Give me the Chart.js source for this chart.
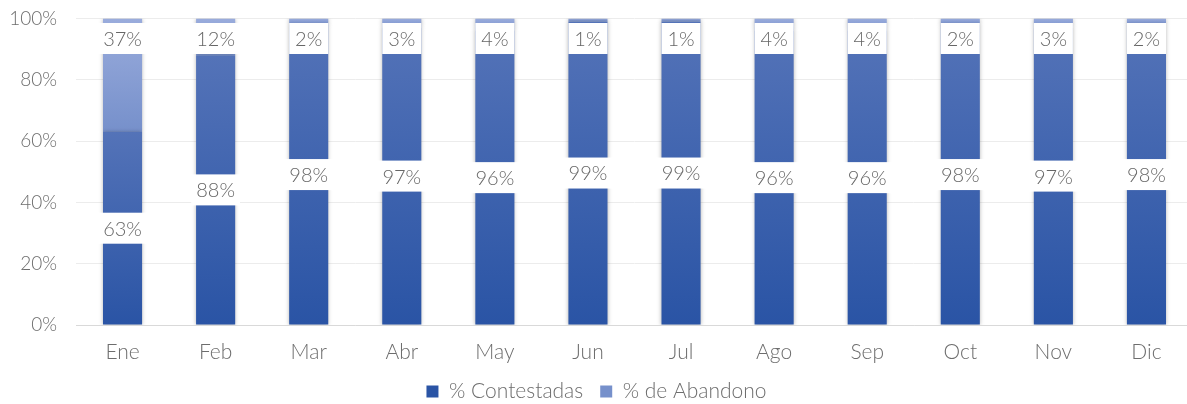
<!DOCTYPE html>
<html>
<head>
<meta charset="utf-8">
<script src="https://cdn.jsdelivr.net/npm/chart.js@4"></script>
<style>
    html, body { margin: 0; padding: 0; overflow: hidden; background: #fff; }
</style>
</head>
<body>
<canvas id="callsChart" width="1200" height="412"></canvas>
<script>
// monthly data
const months = ['Ene', 'Feb', 'Mar', 'Abr', 'May', 'Jun', 'Jul', 'Ago', 'Sep', 'Oct', 'Nov', 'Dic'];
const contestadas = [63, 88, 98, 97, 96, 99, 99, 96, 96, 98, 97, 98];
const abandono = [37, 12, 2, 3, 4, 1, 1, 4, 4, 2, 3, 2];
const yTicks = [0, 20, 40, 60, 80, 100];

const fontFamily = "Lato, 'Open Sans', sans-serif";
const textGray = '#6d6d6d';

// gradient per bar segment, from its own bottom to its own top
function barGradient(bottomColor, topColor, solid) {
    return function (context) {
        const chart = context.chart;
        if (context.dataIndex === undefined || !chart.chartArea) {
            return solid;
        }
        const y = chart.scales.y;
        let base = 0;
        for (let i = 0; i < context.datasetIndex; i++) {
            base += chart.data.datasets[i].data[context.dataIndex];
        }
        const value = chart.data.datasets[context.datasetIndex].data[context.dataIndex];
        const g = chart.ctx.createLinearGradient(0, y.getPixelForValue(base), 0, y.getPixelForValue(base + value));
        g.addColorStop(0, bottomColor);
        g.addColorStop(1, topColor);
        return g;
    };
}

// soft shadow round the bars
const barShadow = {
    id: 'barShadow',
    beforeDatasetsDraw(chart) {
        const ctx = chart.ctx;
        ctx.save();
        ctx.shadowColor = 'rgba(0, 0, 0, 0.28)';
        ctx.shadowBlur = 4;
    },
    afterDatasetsDraw(chart) {
        chart.ctx.restore();
    }
};

// value labels in white boxes
const boxLabels = {
    id: 'boxLabels',
    afterDatasetsDraw(chart) {
        const ctx = chart.ctx;
        const fontSize = 20;
        ctx.save();
        ctx.font = `300 ${fontSize}px ${fontFamily}`;
        ctx.textAlign = 'center';
        ctx.textBaseline = 'middle';
        chart.data.datasets.forEach((ds, di) => {
            const meta = chart.getDatasetMeta(di);
            meta.data.forEach((bar, i) => {
                const text = ds.data[i] + '%';
                // first series centred in its segment, second one near the top of the stack
                const cy = di === 0 ? (bar.y + bar.base) / 2 : bar.y + 20;
                const w = Math.max(ctx.measureText(text).width + 10, bar.width);
                const h = fontSize + 11;
                ctx.fillStyle = '#ffffff';
                ctx.fillRect(bar.x - w / 2, cy - h / 2, w, h);
                ctx.fillStyle = '#666666';
                ctx.fillText(text, bar.x, cy + 1);
            });
        });
        ctx.restore();
    }
};

const ctx = document.getElementById('callsChart').getContext('2d');

new Chart(ctx, {
    type: 'bar',
    data: {
        labels: months,
        datasets: [
            {
                label: '% Contestadas',
                data: contestadas,
                backgroundColor: barGradient('#2a54a5', '#5473b8', '#2e56a6'),
                barPercentage: 0.42,
                categoryPercentage: 1
            },
            {
                label: '% de Abandono',
                data: abandono,
                backgroundColor: barGradient('#7690cb', '#9aacdc', '#8ea1d7'),
                barPercentage: 0.42,
                categoryPercentage: 1
            }
        ]
    },
    options: {
        responsive: false,
        animation: false,
        layout: {
            padding: { top: 18.5, right: 7, left: 0, bottom: 0 }
        },
        scales: {
            x: {
                stacked: true,
                grid: { display: false, drawTicks: false },
                border: { color: '#d9d9d9', width: 1 },
                ticks: {
                    color: textGray,
                    padding: 14.4,
                    font: { family: fontFamily, size: 21, weight: '300' }
                },
                afterFit(scale) {
                    scale.height = 39;
                }
            },
            y: {
                stacked: true,
                min: 0,
                max: 100,
                afterBuildTicks(scale) {
                    scale.ticks = yTicks.map(v => ({ value: v }));
                },
                grid: { color: '#ececec', drawTicks: false },
                border: { display: false },
                ticks: {
                    color: textGray,
                    padding: 19,
                    font: { family: fontFamily, size: 19, weight: '300' },
                    callback: (v) => v + '%'
                },
                afterFit(scale) {
                    scale.width = 76;
                    scale.paddingTop = 0;
                    scale.paddingBottom = 0;
                }
            }
        },
        plugins: {
            tooltip: { enabled: false },
            legend: {
                position: 'bottom',
                labels: {
                    boxWidth: 12,
                    boxHeight: 12,
                    padding: 17,
                    color: textGray,
                    font: { family: fontFamily, size: 21, weight: '300' }
                }
            }
        }
    },
    plugins: [barShadow, boxLabels]
});
</script>
</body>
</html>
